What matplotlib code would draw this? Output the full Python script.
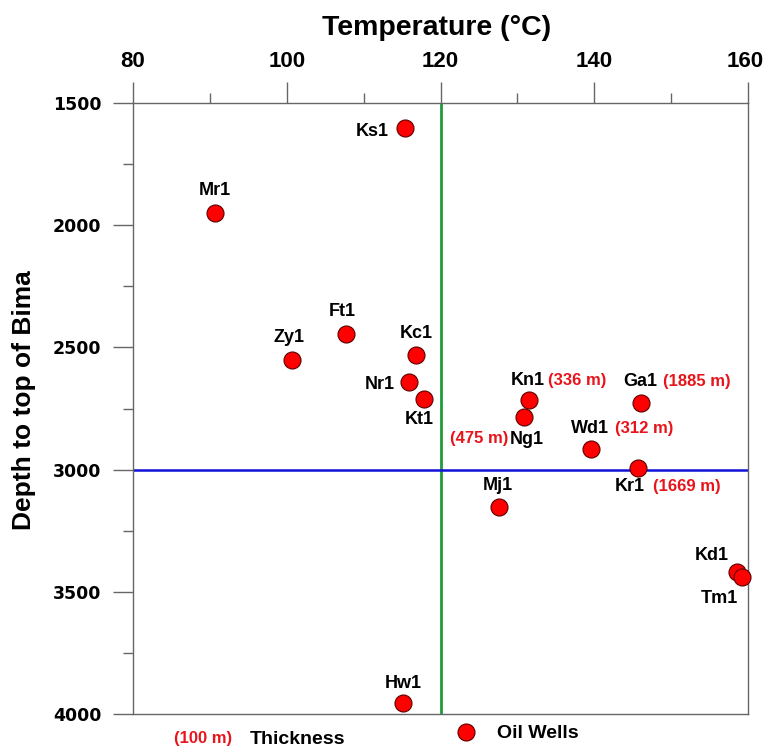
import matplotlib
matplotlib.use("Agg")
import matplotlib.pyplot as plt
import matplotlib.transforms as mtransforms
from matplotlib.ticker import MultipleLocator

plt.rcParams['font.family'] = ['Liberation Sans', 'DejaVu Sans']

# well data: temperature (degC) and depth to top of Bima (m)
wells = ['Ks1', 'Mr1', 'Ft1', 'Zy1', 'Kc1', 'Nr1', 'Kt1', 'Kn1', 'Ng1',
         'Ga1', 'Wd1', 'Kr1', 'Mj1', 'Kd1', 'Tm1', 'Hw1']
temperature = [115.4, 90.7, 107.7, 100.7, 116.8, 115.9, 117.8, 131.5, 130.8,
               146.1, 139.6, 145.7, 127.6, 158.6, 159.2, 115.1]
depth = [1602, 1950, 2445, 2551, 2531, 2642, 2711, 2715, 2785,
         2727, 2916, 2993, 3153, 3419, 3439, 3955]
# thickness notes shown for some wells
thickness = {'Kn1': '(336 m)', 'Ng1': '(475 m)', 'Ga1': '(1885 m)',
             'Wd1': '(312 m)', 'Kr1': '(1669 m)'}

temp_cutoff = 120
depth_cutoff = 3000

# label placement (offset in pixels)
label_pos = {
    'Ks1': (-33, -4), 'Mr1': (0, 22), 'Ft1': (-4, 22), 'Zy1': (-3, 22),
    'Kc1': (0, 21), 'Nr1': (-29, -2), 'Kt1': (-4, -21), 'Kn1': (-1, 19),
    'Ng1': (3, -22), 'Ga1': (-1, 21), 'Wd1': (-1, 21), 'Kr1': (-8, -19),
    'Mj1': (-1, 22), 'Kd1': (-26, 17), 'Tm1': (-22, -22), 'Hw1': (0, 20),
}
thick_pos = {'Kn1': (48, 19), 'Ng1': (-44, -21), 'Ga1': (56, 21),
             'Wd1': (53, 21), 'Kr1': (49, -19)}

fig = plt.figure(figsize=(7.65, 7.49), dpi=100)
ax = fig.add_axes([0.1739, 0.0467, 0.8039, 0.8158])

ax.set_xlim(80, 160)
ax.set_ylim(4000, 1500)
ax.xaxis.tick_top()
ax.xaxis.set_major_locator(MultipleLocator(20))
ax.xaxis.set_minor_locator(MultipleLocator(10))
ax.yaxis.set_major_locator(MultipleLocator(500))
ax.yaxis.set_minor_locator(MultipleLocator(250))

for s in ax.spines.values():
    s.set_color('#666666')
    s.set_linewidth(1.0)

ax.tick_params(axis='x', which='major', direction='out', length=15, width=1,
               color='#666666', pad=7.5, labelsize=16)
ax.tick_params(axis='x', which='minor', direction='out', length=7, width=1,
               color='#666666')
ax.tick_params(axis='y', which='major', direction='out', length=14.4, width=1,
               color='#666666', pad=8.5, labelsize=12.5)
ax.tick_params(axis='y', which='minor', direction='out', length=7, width=1,
               color='#666666')
for lab in ax.get_xticklabels():
    lab.set_fontweight('bold')
    if lab.get_text() == '160':
        # nudge so the last top label stays inside the picture
        lab.set_transform(lab.get_transform() +
                          mtransforms.ScaledTranslation(-0.03, 0, fig.dpi_scale_trans))
for lab in ax.get_yticklabels():
    lab.set_fontweight('bold')
    lab.set_family('DejaVu Sans')

ax.axvline(temp_cutoff, color='#1f9a3c', lw=2.0, zorder=2)
ax.axhline(depth_cutoff, color='#1010d8', lw=1.8, zorder=2)

ax.scatter(temperature, depth, s=150, color='#ff0000', edgecolor='#5a0000',
           linewidth=0.8, zorder=4, clip_on=False)

for name, t, d in zip(wells, temperature, depth):
    dx, dy = label_pos[name]
    ax.annotate(name, (t, d), xytext=(dx, dy), textcoords='offset pixels',
                ha='center', va='center', fontsize=13, fontweight='bold',
                color='black', zorder=5)
    if name in thickness:
        tx, ty = thick_pos[name]
        ax.annotate(thickness[name], (t, d), xytext=(tx, ty), textcoords='offset pixels',
                    ha='center', va='center', fontsize=12, fontweight='bold',
                    color='#e8141b', zorder=5)

fig.text(0.571, 1 - 35 / 749, 'Temperature (°C)', ha='center', va='baseline',
         fontsize=20.5, fontweight='bold')
fig.text(0.031, 0.466, 'Depth to top of Bima', ha='center', va='center', fontsize=19,
         fontweight='bold', rotation=90)

# bottom legend
fig.text(203 / 765, 1 - 738 / 749, '(100 m)', ha='center', va='center', fontsize=12,
         fontweight='bold', color='#e8141b')
fig.text(250 / 765, 1 - 739 / 749, 'Thickness', ha='left', va='center', fontsize=14,
         fontweight='bold')
ax.scatter([(466 - 133) / 615], [(714 - 732) / 611], s=150, color='#ff0000',
           edgecolor='#5a0000', linewidth=0.8, transform=ax.transAxes,
           clip_on=False, zorder=5)
fig.text(497 / 765, 1 - 733 / 749, 'Oil Wells', ha='left', va='center', fontsize=14,
         fontweight='bold')

fig.savefig('out.png', dpi=100)
